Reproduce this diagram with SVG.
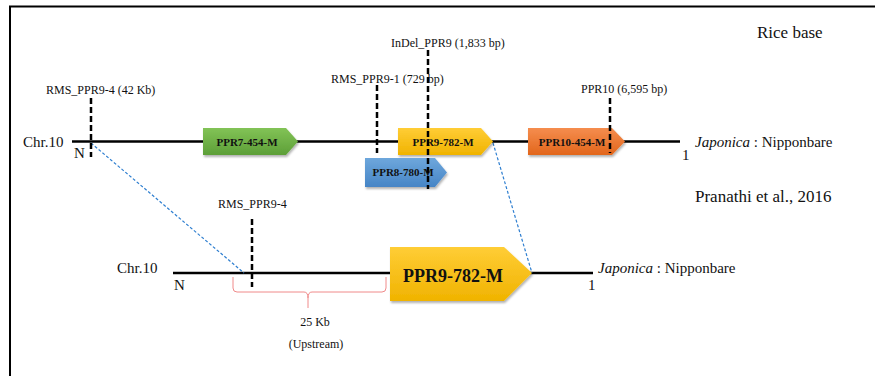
<svg xmlns="http://www.w3.org/2000/svg" width="875" height="376" viewBox="0 0 875 376">
<defs>
<linearGradient id="gGreen" x1="0" y1="0" x2="0" y2="1"><stop offset="0" stop-color="#82c356"/><stop offset="1" stop-color="#5d9f38"/></linearGradient>
<linearGradient id="gYellow" x1="0" y1="0" x2="0" y2="1"><stop offset="0" stop-color="#ffcd36"/><stop offset="1" stop-color="#f0b300"/></linearGradient>
<linearGradient id="gBlue" x1="0" y1="0" x2="0" y2="1"><stop offset="0" stop-color="#6ea7dc"/><stop offset="1" stop-color="#4685c6"/></linearGradient>
<linearGradient id="gOrange" x1="0" y1="0" x2="0" y2="1"><stop offset="0" stop-color="#f58d4e"/><stop offset="1" stop-color="#e2661c"/></linearGradient>
<filter id="shadow" x="-10%" y="-10%" width="130%" height="140%"><feDropShadow dx="1" dy="2" stdDeviation="1.2" flood-color="#000" flood-opacity="0.3"/></filter>
</defs>
<style>
text{font-family:"Liberation Serif","Times New Roman",serif;fill:#111;}
.lbl{font-size:12px;}
.chr{font-size:15px;}
.gene{font-size:11px;font-weight:bold;text-anchor:middle;}
.big{font-size:18px;font-weight:bold;text-anchor:middle;}
.chrline{stroke:#000;stroke-width:2.6;fill:none;}
.marker{stroke:#000;stroke-width:2.5;stroke-dasharray:6,3;fill:none;}
.zoomline{stroke:#2f7fd0;stroke-width:1.2;stroke-dasharray:3,2;fill:none;}
.brace{stroke:#f08a8a;stroke-width:1;fill:none;}
</style>
<rect x="10" y="6.5" width="880" height="380" fill="#fff" stroke="#000" stroke-width="2"/>

<g id="top-chromosome">
<line class="chrline" x1="72" y1="141.5" x2="680" y2="141.5"/>
<text class="chr" x="23" y="147">Chr.10</text>
<text class="chr" x="74" y="158">N</text>
<text class="chr" x="682" y="160">1</text>
<text class="chr" x="695" y="147"><tspan font-style="italic">Japonica</tspan> : Nipponbare</text>
</g>

<g id="bottom-chromosome">
<line class="chrline" x1="173" y1="273" x2="593" y2="273"/>
<text class="chr" x="117" y="273">Chr.10</text>
<text class="chr" x="174" y="290">N</text>
<text class="chr" x="588" y="290">1</text>
<text class="chr" x="598" y="273"><tspan font-style="italic">Japonica</tspan> : Nipponbare</text>
</g>

<g id="connectors">
<line class="zoomline" x1="91" y1="143" x2="244" y2="273"/>
<line class="zoomline" x1="493" y1="143" x2="532" y2="273"/>
</g>

<g id="gene-PPR7-454-M">
<path d="M203,128 H286 L298,141.5 L286,155 H203 Z" fill="url(#gGreen)" filter="url(#shadow)"/>
<text class="gene" x="247" y="146">PPR7-454-M</text>
</g>

<g id="gene-PPR9-782-M-top">
<path d="M398,128 H481 L493,141.5 L481,155 H398 Z" fill="url(#gYellow)" filter="url(#shadow)"/>
<text class="gene" x="443" y="146">PPR9-782-M</text>
</g>

<g id="gene-PPR8-780-M">
<path d="M365,158 H435 L447,172.5 L435,187 H365 Z" fill="url(#gBlue)" filter="url(#shadow)"/>
<text class="gene" x="403" y="176">PPR8-780-M</text>
</g>

<g id="gene-PPR10-454-M">
<path d="M528,128 H612 L625,141.5 L612,155 H528 Z" fill="url(#gOrange)" filter="url(#shadow)"/>
<text class="gene" x="572" y="146">PPR10-454-M</text>
</g>

<g id="gene-PPR9-782-M-bottom">
<path d="M390,247 H504 L532,273 L504,301 H390 Z" fill="url(#gYellow)" filter="url(#shadow)"/>
<text class="big" x="453" y="282">PPR9-782-M</text>
</g>

<g id="marker-RMS_PPR9-4-top">
<line class="marker" x1="91" y1="98" x2="91" y2="157"/>
<text class="lbl" x="46" y="94">RMS_PPR9-4 (42 Kb)</text>
</g>

<g id="marker-RMS_PPR9-1">
<line class="marker" x1="377" y1="85" x2="377" y2="153"/>
<text class="lbl" x="331" y="83">RMS_PPR9-1 (729 bp)</text>
</g>

<g id="marker-InDel_PPR9">
<line class="marker" x1="428" y1="50" x2="428" y2="189"/>
<text class="lbl" x="391" y="47">InDel_PPR9 (1,833 bp)</text>
</g>

<g id="marker-PPR10">
<line class="marker" x1="610" y1="98" x2="610" y2="153"/>
<text class="lbl" x="581" y="93">PPR10 (6,595 bp)</text>
</g>

<g id="marker-RMS_PPR9-4-bottom">
<line class="marker" x1="252" y1="219" x2="252" y2="287"/>
<text class="lbl" x="218" y="208">RMS_PPR9-4</text>
</g>

<g id="upstream-brace">
<path class="brace" d="M233,277 V288 Q233,292 237,292 H304 Q308,292 308,298 V308 M308,298 Q308,292 312,292 H382 Q386,292 386,288 V277"/>
<text class="lbl" x="315" y="326" text-anchor="middle">25 Kb</text>
<text class="lbl" x="316" y="348" text-anchor="middle">(Upstream)</text>
</g>

<g id="titles">
<text x="757" y="38" font-size="17">Rice base</text>
<text x="695" y="202" font-size="17">Pranathi et al., 2016</text>
</g>
</svg>
